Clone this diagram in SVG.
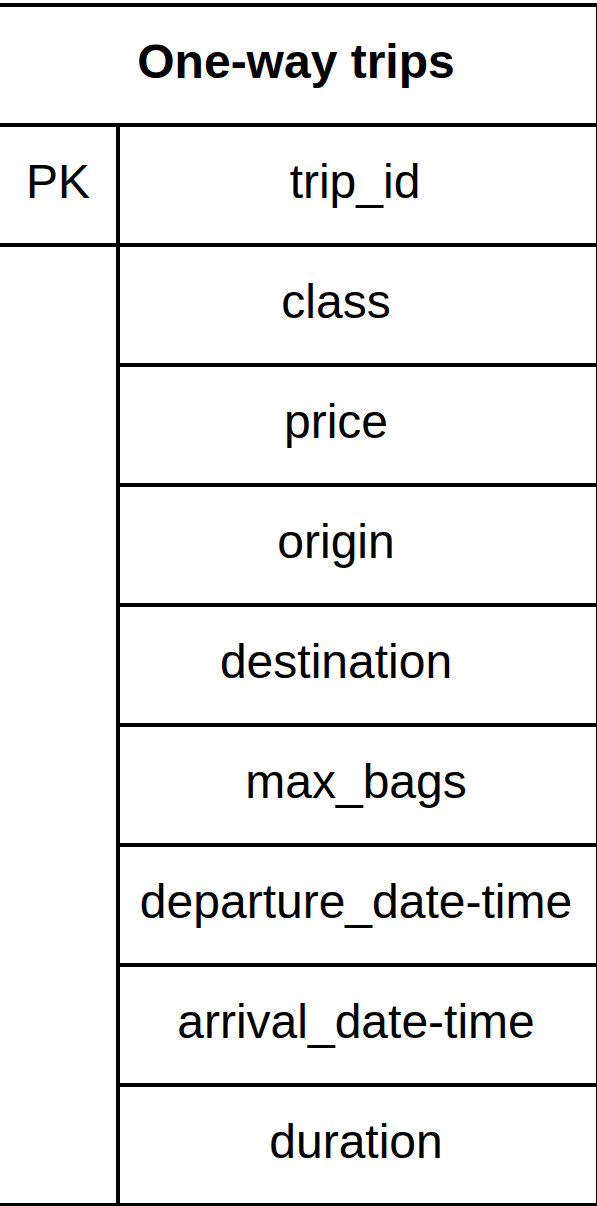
<svg xmlns="http://www.w3.org/2000/svg" width="597" height="1206" viewBox="0 0 597 1206">
  <style>
    .frame { fill: #ffffff; stroke: #000000; stroke-width: 4; }
    .rule { stroke: #000000; stroke-width: 4; fill: none; }
    .title { font-family: "Liberation Sans", Arial, sans-serif; font-size: 48px; font-weight: bold; fill: #000000; text-anchor: middle; }
    .cell { font-family: "Liberation Sans", Arial, sans-serif; font-size: 48px; fill: #000000; text-anchor: middle; }
  </style>

  <!-- table outline -->
  <rect class="frame" x="-2" y="5" width="600" height="1200"/>

  <!-- row separators and key column divider -->
  <g id="grid">
    <line class="rule" x1="-2" y1="125" x2="598" y2="125"/>
    <line class="rule" x1="-2" y1="245" x2="598" y2="245"/>
    <line class="rule" x1="118" y1="365" x2="598" y2="365"/>
    <line class="rule" x1="118" y1="485" x2="598" y2="485"/>
    <line class="rule" x1="118" y1="605" x2="598" y2="605"/>
    <line class="rule" x1="118" y1="725" x2="598" y2="725"/>
    <line class="rule" x1="118" y1="845" x2="598" y2="845"/>
    <line class="rule" x1="118" y1="965" x2="598" y2="965"/>
    <line class="rule" x1="118" y1="1085" x2="598" y2="1085"/>
    <line class="rule" x1="118" y1="125" x2="118" y2="1205"/>
  </g>

  <g id="header">
    <text class="title" x="296" y="78">One-way trips</text>
  </g>

  <g id="row-trip_id">
    <text class="cell" x="58" y="198">PK</text>
    <text class="cell" x="355" y="198">trip_id</text>
  </g>
  <g id="row-class">
    <text class="cell" x="336" y="318">class</text>
  </g>
  <g id="row-price">
    <text class="cell" x="336" y="438">price</text>
  </g>
  <g id="row-origin">
    <text class="cell" x="336" y="558">origin</text>
  </g>
  <g id="row-destination">
    <text class="cell" x="336" y="678">destination</text>
  </g>
  <g id="row-max_bags">
    <text class="cell" x="356" y="798">max_bags</text>
  </g>
  <g id="row-departure">
    <text class="cell" x="356" y="918">departure_date-time</text>
  </g>
  <g id="row-arrival">
    <text class="cell" x="356" y="1038">arrival_date-time</text>
  </g>
  <g id="row-duration">
    <text class="cell" x="356" y="1158">duration</text>
  </g>
</svg>
